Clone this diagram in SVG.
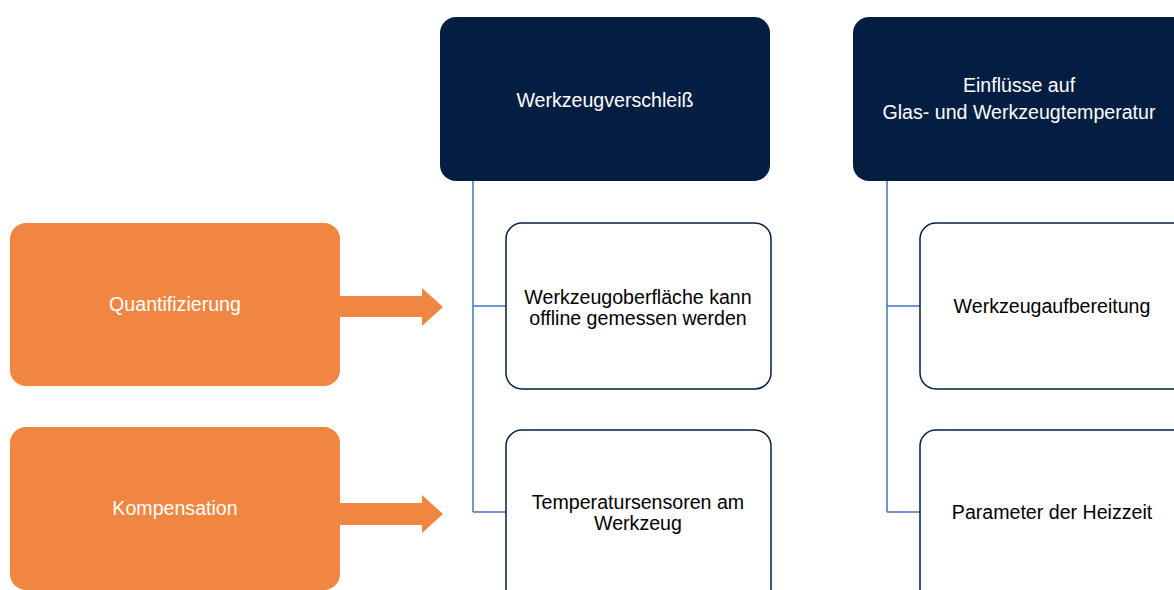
<svg xmlns="http://www.w3.org/2000/svg" width="1174" height="590" viewBox="0 0 1174 590">
<style>
text{font-family:"Liberation Sans",Arial,sans-serif;font-size:19.6px;text-anchor:middle}
.dark{fill:#041E42}
.orange{fill:#EF8742}
.white{fill:#fff;stroke:#041E42;stroke-width:1.5}
.lt{fill:#fff}
.bk{fill:#000}
.conn{fill:none;stroke:#4472C4;stroke-width:1.5}
</style>
<rect width="1174" height="590" fill="#fff"/>
<g id="connectors">
<path class="conn" d="M473 181V512M473 306H506M473 512H506"/>
<path class="conn" d="M887 181V512M887 306H920M887 512H920"/>
<path class="orange" d="M340 296H422V288L443 307L422 326V317H340Z"/>
<path class="orange" d="M340 503H422V495L443 514L422 533V525H340Z"/>
</g>
<g id="werkzeugverschleiss">
<rect class="dark" x="440" y="17" width="330" height="164" rx="16"/>
<text class="lt" x="605" y="107">Werkzeugverschleiß</text>
</g>
<g id="einfluesse">
<rect class="dark" x="853" y="17" width="340" height="164" rx="16"/>
<text class="lt" x="1019" y="92">Einflüsse auf</text>
<text class="lt" x="1019" y="119">Glas- und Werkzeugtemperatur</text>
</g>
<g id="oberflaeche">
<rect class="white" x="506" y="223" width="265" height="166" rx="16"/>
<text class="bk" x="638" y="304">Werkzeugoberfläche kann</text>
<text class="bk" x="638" y="325">offline gemessen werden</text>
</g>
<g id="sensoren">
<rect class="white" x="506" y="430" width="265" height="180" rx="16"/>
<text class="bk" x="638" y="509">Temperatursensoren am</text>
<text class="bk" x="638" y="530">Werkzeug</text>
</g>
<g id="aufbereitung">
<rect class="white" x="920" y="223" width="270" height="166" rx="16"/>
<text class="bk" x="1052" y="313">Werkzeugaufbereitung</text>
</g>
<g id="heizzeit">
<rect class="white" x="920" y="430" width="270" height="180" rx="16"/>
<text class="bk" x="1052" y="519">Parameter der Heizzeit</text>
</g>
<g id="quantifizierung">
<rect class="orange" x="10" y="223" width="330" height="163" rx="16"/>
<text class="lt" x="175" y="311">Quantifizierung</text>
</g>
<g id="kompensation">
<rect class="orange" x="10" y="427" width="330" height="163" rx="16"/>
<text class="lt" x="175" y="515">Kompensation</text>
</g>
</svg>
